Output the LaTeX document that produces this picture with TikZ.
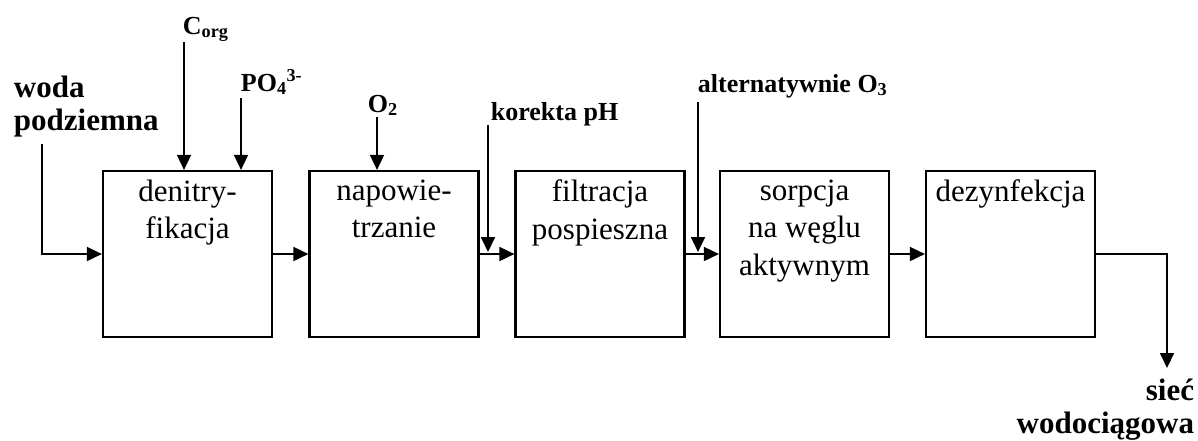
\documentclass[tikz,border=0pt]{standalone}
\usepackage{fontspec}
\setmainfont{Liberation Serif}
\usetikzlibrary{arrows.meta,positioning}

\begin{document}
\begin{tikzpicture}[x=1pt,y=-1pt,>={Triangle[length=15pt,width=14pt]},line width=1.8pt,
  procbox/.style={draw,line width=2.2pt,minimum width=169pt,minimum height=166pt,inner sep=0pt},
  boxtext/.style={align=center,inner sep=0pt,font=\fontsize{31}{37.5}\selectfont},
  dosage/.style={anchor=base west,inner sep=0pt,font=\bfseries\fontsize{26}{31}\selectfont},
  flowlabel/.style={inner sep=0pt,font=\bfseries\fontsize{31}{33}\selectfont}]
  \useasboundingbox (0,0) rectangle (1198,440);
  \node[procbox] (den) at (187.5,254) {};
  \node[procbox] (nap) at (394,254) {};
  \node[procbox] (fil) at (600,254) {};
  \node[procbox] (sor) at (804.5,254) {};
  \node[procbox] (dez) at (1010.5,254) {};
  \node[boxtext,below=9pt of den.north] {denitry-\\fikacja};
  \node[boxtext,below=9pt of nap.north] {napowie-\\trzanie};
  \node[boxtext,below=9pt of fil.north] {filtracja\\pospieszna};
  \node[boxtext,below=9pt of sor.north] {sorpcja\\na węglu\\aktywnym};
  \node[boxtext,below=9pt of dez.north] {dezynfekcja};
  % doses
  \node[dosage] (corg) at (182,34) {C\textsubscript{org}};
  \node[dosage] (po4) at (240,91) {PO\textsubscript{4}\textsuperscript{3-}};
  \node[dosage] (o2) at (367,112) {O\textsubscript{2}};
  \node[dosage] (ph) at (490,120) {korekta pH};
  \node[dosage] (o3) at (697,92) {alternatywnie O\textsubscript{3}};
  \node[flowlabel,align=left,anchor=north west] (in) at (13,75) {woda\\podziemna};
  \node[flowlabel,align=right,anchor=north east] (out) at (1195,378) {sieć\\wodociągowa};
  \coordinate (inA) at (42,144);
  \coordinate (corgA) at (184,42);
  \coordinate (po4A) at (241,98);
  \coordinate (o2A) at (377,117);
  \coordinate (phA) at (488,125);
  \coordinate (phB) at (488,252);
  \coordinate (o3A) at (698,102);
  \coordinate (o3B) at (698,252);
  \coordinate (outA) at (1167,254);
  \coordinate (outB) at (1167,368);
  % flow
  \draw[->] (inA) |- (den.west);
  \draw[->] (den) -- (nap);
  \draw[->] (nap) -- (fil);
  \draw[->] (fil) -- (sor);
  \draw[->] (sor) -- (dez);
  \draw[->] (dez.east) -- (outA) -- (outB);
  \draw[->] (corgA) -- (corgA |- den.north);
  \draw[->] (po4A) -- (po4A |- den.north);
  \draw[->] (o2A) -- (o2A |- nap.north);
  \draw[->] (phA) -- (phB);
  \draw[->] (o3A) -- (o3B);
\end{tikzpicture}
\end{document}
